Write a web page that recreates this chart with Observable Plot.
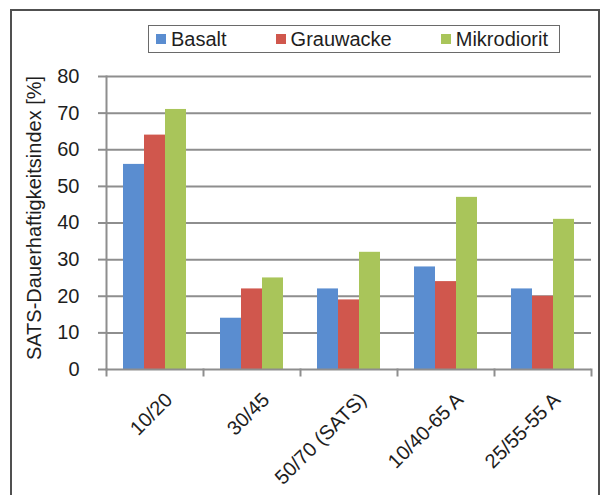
<!DOCTYPE html>
<html>
<head>
<meta charset="utf-8">
<script src="https://cdn.jsdelivr.net/npm/d3@7"></script>
<script src="https://cdn.jsdelivr.net/npm/@observablehq/plot@0.6"></script>
<style>
  html, body { margin: 0; padding: 0; background: #fff; }
  #wrap { position: relative; width: 603px; height: 495px; overflow: hidden; font-family: "Liberation Sans", Arial, sans-serif; color: #1e1e1e; }
  #border { position: absolute; left: 10px; top: 9px; width: 590px; height: 500px; border: 2px solid #505050; border-bottom: none; box-sizing: border-box; }
  #legend { position: absolute; left: 148px; top: 25px; width: 412px; height: 28px; box-sizing: border-box; border: 1px solid #6a6a6a; display: flex; align-items: center; padding-left: 7px; font-size: 20px; gap: 49px; background: #fff; }
  #legend .item { display: flex; align-items: center; white-space: nowrap; }
  #legend .sw { width: 10px; height: 10px; margin-right: 5px; }
  #chart { position: absolute; left: 0; top: 60px; }
</style>
</head>
<body>
<div id="wrap">
  <div id="border"></div>
  <div id="legend"></div>
  <div id="chart"></div>
</div>
<script>
const categories = ["10/20", "30/45", "50/70 (SATS)", "10/40-65 A", "25/55-55 A"];
const series = ["Basalt", "Grauwacke", "Mikrodiorit"];
const basalt = [56, 14, 22, 28, 22];
const grauwacke = [64, 22, 19, 24, 20];
const mikrodiorit = [71, 25, 32, 47, 41];
const colors = ["#5a8dd0", "#d0574d", "#a9c55a"];
const yTicks = [0, 10, 20, 30, 40, 50, 60, 70, 80];
const yLabel = "SATS-Dauerhaftigkeitsindex [%]";

const valuesBySeries = [basalt, grauwacke, mikrodiorit];
const data = categories.flatMap((c, i) =>
  series.map((s, j) => ({category: c, series: s, value: valuesBySeries[j][i]}))
);

// legend
const legend = document.getElementById("legend");
series.forEach((s, j) => {
  const item = document.createElement("div");
  item.className = "item";
  const sw = document.createElement("span");
  sw.className = "sw";
  sw.style.background = colors[j];
  const t = document.createElement("span");
  t.textContent = s;
  item.appendChild(sw);
  item.appendChild(t);
  legend.appendChild(item);
});

const W = 603, H = 435, mT = 16, mB = 126, mL = 104, mR = 10;
const plotH = H - mT - mB;
const gray = "#8e8e8e";
const ink = "#1e1e1e";

const chart = Plot.plot({
  width: W,
  height: H,
  marginTop: mT,
  marginBottom: mB,
  marginLeft: mL,
  marginRight: mR,
  style: {fontFamily: "'Liberation Sans', Arial, sans-serif", fontSize: "20px", color: ink, background: "transparent", overflow: "visible"},
  fx: {domain: categories, paddingInner: 0, paddingOuter: 0, axis: null, label: null},
  x: {domain: series, paddingInner: 0, paddingOuter: 0.775, axis: null, label: null},
  y: {domain: [0, 80], axis: null, label: null},
  color: {domain: series, range: colors},
  marks: [
    Plot.gridY(yTicks.filter(t => t > 0), {stroke: gray, strokeOpacity: 1, strokeWidth: 2}),
    Plot.barY(data, {fx: "category", x: "series", y: "value", fill: "series"}),
    Plot.ruleY([0], {stroke: gray, strokeWidth: 2}),
    Plot.frame({anchor: "left", facetAnchor: "left", stroke: gray, strokeWidth: 2}),
    Plot.frame({anchor: "left", stroke: gray, strokeWidth: 2, insetTop: plotH, insetBottom: -6}),
    Plot.frame({anchor: "right", facetAnchor: "right", stroke: gray, strokeWidth: 2, insetTop: plotH, insetBottom: -6}),
    Plot.axisY(yTicks, {anchor: "left", tickSize: 8, tickPadding: 19, stroke: gray, strokeWidth: 2, fill: ink, fontSize: 20, label: null, facetAnchor: "left"}),
    Plot.text([{fx: categories[0], t: yLabel}], {fx: "fx", text: "t", frameAnchor: "left", textAnchor: "middle", lineAnchor: "middle", rotate: -90, dx: -72, dy: -5, fontSize: 20, fill: ink}),
    Plot.text(categories, {fx: d => d, text: d => d, frameAnchor: "bottom", textAnchor: "end", lineAnchor: "middle", rotate: -45, dx: 14, dy: 27, fontSize: 20, fill: ink})
  ]
});
document.getElementById("chart").appendChild(chart);
</script>
</body>
</html>
